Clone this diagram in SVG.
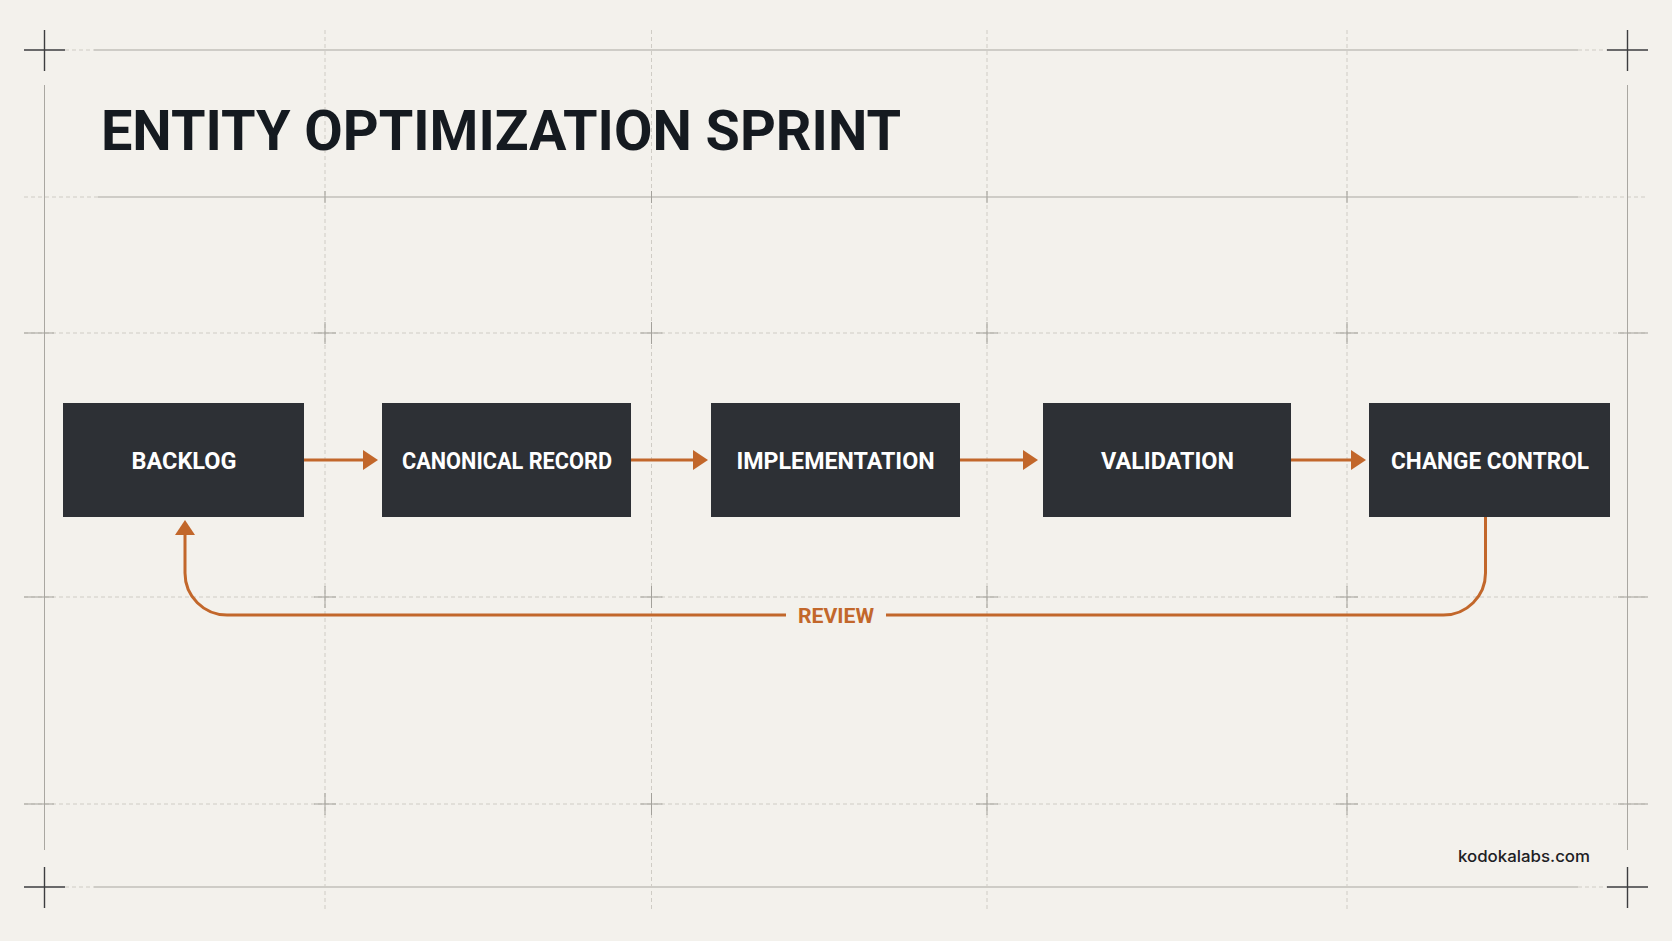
<svg xmlns="http://www.w3.org/2000/svg" width="1672" height="941" viewBox="0 0 1672 941">
  <defs>
    <style>
      .solid { stroke: #a9a7a1; stroke-width: 1; fill: none; }
      .dash { stroke: #cfccc5; stroke-width: 1; stroke-dasharray: 4 3; fill: none; }
      .plus { stroke: #a3a19b; stroke-width: 1; fill: none; }
      .corner { stroke: #3c3d3f; stroke-width: 1.4; fill: none; }
      .box { fill: #2d3035; }
      .label { font-family: Roboto, "Liberation Sans", sans-serif; font-weight: 700; font-size: 24px; fill: #ffffff; text-anchor: middle; }
      .conn { stroke: #c2672b; stroke-width: 3; fill: none; }
      .title { font-family: Roboto, "Liberation Sans", sans-serif; font-weight: 700; font-size: 56px; fill: #151a20; }
      .review { font-family: Roboto, "Liberation Sans", sans-serif; font-weight: 700; font-size: 20px; fill: #c2672b; text-anchor: middle; }
      .footer { font-family: Inter, "Liberation Sans", sans-serif; font-weight: 500; font-size: 16px; fill: #1d2024; }
    </style>
    <marker id="arrow" markerUnits="userSpaceOnUse" markerWidth="16" markerHeight="22" refX="0" refY="10" orient="auto" viewBox="0 0 16 22">
      <path d="M0,0 L15,10 L0,20 Z" fill="#c2672b"/>
    </marker>
  </defs>

  <rect x="0" y="0" width="1672" height="941" fill="#f3f1ec"/>

  <g id="grid">
    <!-- horizontal -->
    <line class="dash" x1="65" y1="50" x2="94" y2="50"/>
    <line class="solid" x1="94" y1="50" x2="1578" y2="50"/>
    <line class="dash" x1="1578" y1="50" x2="1608" y2="50"/>
    <line class="dash" x1="24" y1="197" x2="98" y2="197"/>
    <line class="solid" x1="98" y1="197" x2="1578" y2="197"/>
    <line class="dash" x1="1578" y1="197" x2="1648" y2="197"/>
    <line class="dash" x1="24" y1="333" x2="1648" y2="333"/>
    <line class="dash" x1="24" y1="597" x2="1648" y2="597"/>
    <line class="dash" x1="24" y1="804" x2="1648" y2="804"/>
    <line class="dash" x1="65" y1="887" x2="94" y2="887"/>
    <line class="solid" x1="94" y1="887" x2="1578" y2="887"/>
    <line class="dash" x1="1578" y1="887" x2="1608" y2="887"/>
    <!-- vertical -->
    <line class="solid" x1="44.5" y1="85" x2="44.5" y2="850"/>
    <line class="solid" x1="1627.5" y1="85" x2="1627.5" y2="850"/>
    <line class="dash" x1="325" y1="30" x2="325" y2="910"/>
    <line class="dash" x1="651.5" y1="30" x2="651.5" y2="910"/>
    <line class="dash" x1="987" y1="30" x2="987" y2="910"/>
    <line class="dash" x1="1347" y1="30" x2="1347" y2="910"/>
    <!-- small plus marks -->
    <path class="plus" d="M325,191 v12 M651.5,191 v12 M987,191 v12 M1347,191 v12"/>
    <path class="plus" d="M314,333 h22 M325,322 v22 M640.5,333 h22 M651.5,322 v22 M976,333 h22 M987,322 v22 M1336,333 h22 M1347,322 v22"/>
    <path class="plus" d="M314,597 h22 M325,586 v22 M640.5,597 h22 M651.5,586 v22 M976,597 h22 M987,586 v22 M1336,597 h22 M1347,586 v22"/>
    <path class="plus" d="M314,804 h22 M325,793 v22 M640.5,804 h22 M651.5,793 v22 M976,804 h22 M987,793 v22 M1336,804 h22 M1347,793 v22"/>
    <path class="plus" d="M24,333 h30 M24,597 h30 M24,804 h30 M1618,333 h30 M1618,597 h30 M1618,804 h30"/>
    <!-- corner crosses -->
    <path class="corner" d="M24,50 h41 M44.5,30 v41 M1607,50 h41 M1627.5,30 v41 M24,887 h41 M44.5,867 v41 M1607,887 h41 M1627.5,867 v41"/>
  </g>

  <text id="title" class="title" x="101" y="150" textLength="800" lengthAdjust="spacingAndGlyphs">ENTITY OPTIMIZATION SPRINT</text>

  <g id="connectors">
    <line class="conn" x1="304" y1="460" x2="363" y2="460" marker-end="url(#arrow)"/>
    <line class="conn" x1="631" y1="460" x2="693" y2="460" marker-end="url(#arrow)"/>
    <line class="conn" x1="960" y1="460" x2="1023" y2="460" marker-end="url(#arrow)"/>
    <line class="conn" x1="1291" y1="460" x2="1351" y2="460" marker-end="url(#arrow)"/>
    <g id="review-loop">
      <path class="conn" d="M1485.5,517 V573 A42,42 0 0 1 1443.5,615 H886 M786,615 H227 A42,42 0 0 1 185,573 V535" marker-end="url(#arrow)"/>
      <text class="review" x="836" y="623" textLength="76" lengthAdjust="spacingAndGlyphs">REVIEW</text>
    </g>
  </g>

  <g id="node-backlog">
    <rect class="box" x="63" y="403" width="241" height="114"/>
    <text class="label" x="184" y="469" textLength="105" lengthAdjust="spacingAndGlyphs">BACKLOG</text>
  </g>
  <g id="node-canonical-record">
    <rect class="box" x="382" y="403" width="249" height="114"/>
    <text class="label" x="507" y="469" textLength="210" lengthAdjust="spacingAndGlyphs">CANONICAL RECORD</text>
  </g>
  <g id="node-implementation">
    <rect class="box" x="711" y="403" width="249" height="114"/>
    <text class="label" x="835.5" y="469" textLength="198" lengthAdjust="spacingAndGlyphs">IMPLEMENTATION</text>
  </g>
  <g id="node-validation">
    <rect class="box" x="1043" y="403" width="248" height="114"/>
    <text class="label" x="1167.5" y="469" textLength="133" lengthAdjust="spacingAndGlyphs">VALIDATION</text>
  </g>
  <g id="node-change-control">
    <rect class="box" x="1369" y="403" width="241" height="114"/>
    <text class="label" x="1490" y="469" textLength="198" lengthAdjust="spacingAndGlyphs">CHANGE CONTROL</text>
  </g>

  <text id="footer" class="footer" x="1458" y="862" textLength="132" lengthAdjust="spacingAndGlyphs">kodokalabs.com</text>
</svg>
